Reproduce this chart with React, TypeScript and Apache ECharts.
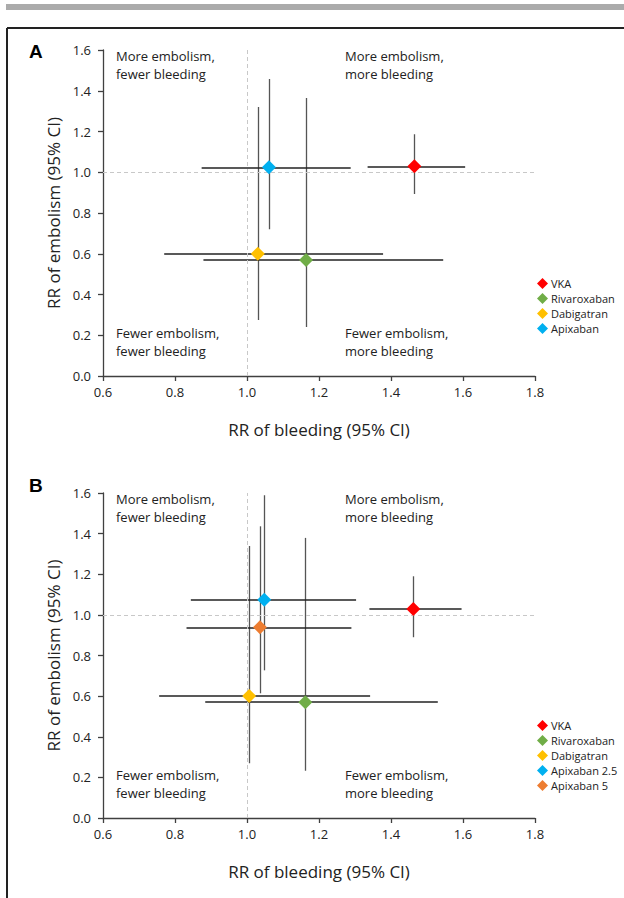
import React, { useEffect, useRef } from "react";
import * as echarts from "echarts";

const xTicks = [0.6, 0.8, 1.0, 1.2, 1.4, 1.6, 1.8];
const yTicks = [0, 0.2, 0.4, 0.6, 0.8, 1.0, 1.2, 1.4, 1.6];

// Panel A
const namesA = ["VKA", "Rivaroxaban", "Dabigatran", "Apixaban"];
const colorsA = ["#FF0000", "#70AD47", "#FFC000", "#00B0F0"];
const bleedA = [1.465, 1.164, 1.03, 1.061];
const bleedLoA = [1.335, 0.879, 0.77, 0.874];
const bleedHiA = [1.606, 1.545, 1.378, 1.288];
const embA = [1.029, 0.569, 0.6, 1.024];
const embLoA = [0.893, 0.24, 0.275, 0.72];
const embHiA = [1.186, 1.364, 1.32, 1.458];

// Panel B
const namesB = ["VKA", "Rivaroxaban", "Dabigatran", "Apixaban 2.5", "Apixaban 5"];
const colorsB = ["#FF0000", "#70AD47", "#FFC000", "#00B0F0", "#ED7D31"];
const bleedB = [1.462, 1.162, 1.006, 1.048, 1.036];
const bleedLoB = [1.34, 0.884, 0.756, 0.844, 0.832];
const bleedHiB = [1.596, 1.53, 1.342, 1.303, 1.29];
const embB = [1.029, 0.57, 0.601, 1.075, 0.939];
const embLoB = [0.89, 0.233, 0.27, 0.727, 0.614];
const embHiB = [1.19, 1.379, 1.339, 1.589, 1.436];

const quadTop = ["More embolism,\nfewer bleeding", "More embolism,\nmore bleeding"];
const quadBottom = ["Fewer embolism,\nfewer bleeding", "Fewer embolism,\nmore bleeding"];

const FONT = "'Open Sans', 'Noto Sans', sans-serif";

function buildPanel(
  idx: number,
  names: string[],
  colors: string[],
  bx: number[],
  bxLo: number[],
  bxHi: number[],
  ey: number[],
  eyLo: number[],
  eyHi: number[]
) {
  const series: any[] = [];
  series.push({
    type: "scatter",
    xAxisIndex: idx,
    yAxisIndex: idx,
    data: [],
    silent: true,
    markLine: {
      silent: true,
      symbol: "none",
      label: { show: false },
      lineStyle: { color: "#c8c8c8", type: [4, 3], width: 1 },
      data: [{ xAxis: 1.0 }, { yAxis: 1.0 }],
    },
  });
  const hLines = names.map((_, i) => ({ coords: [[bxLo[i], ey[i]], [bxHi[i], ey[i]]] }));
  const vLines = names.map((_, i) => ({ coords: [[bx[i], eyLo[i]], [bx[i], eyHi[i]]] }));
  series.push({
    type: "lines",
    coordinateSystem: "cartesian2d",
    xAxisIndex: idx,
    yAxisIndex: idx,
    silent: true,
    lineStyle: { color: "#555555", width: 1.3, opacity: 1 },
    data: vLines,
    z: 3,
  });
  series.push({
    type: "lines",
    coordinateSystem: "cartesian2d",
    xAxisIndex: idx,
    yAxisIndex: idx,
    silent: true,
    lineStyle: { color: "#222222", width: 1.6, opacity: 1 },
    data: hLines,
    z: 3,
  });
  names.forEach((n, i) => {
    series.push({
      type: "scatter",
      name: n,
      xAxisIndex: idx,
      yAxisIndex: idx,
      symbol: "diamond",
      symbolSize: 14,
      itemStyle: { color: colors[i], opacity: 1 },
      data: [[bx[i], ey[i]]],
      z: 5,
    });
  });
  return series;
}

export default function App() {
  const ref = useRef<HTMLDivElement>(null);
  useEffect(() => {
    document.body.style.margin = "0";
    if (!ref.current) return;
    const chart = echarts.init(ref.current, undefined, { renderer: "svg" });

    const grids = [
      { left: 103, top: 50, width: 432, height: 326 },
      { left: 103, top: 493, width: 432, height: 325 },
    ];

    const axisLine = { show: true, lineStyle: { color: "#404040", width: 1.3 } };
    const axisTick = { show: true, length: 5, inside: false, lineStyle: { color: "#404040", width: 1.3 } };
    const labelStyle = { color: "#222", fontSize: 13, fontFamily: FONT };

    const xAxes = [0, 1].map((i) => ({
      type: "value",
      gridIndex: i,
      min: xTicks[0],
      max: xTicks[xTicks.length - 1],
      interval: 0.2,
      axisLine,
      axisTick,
      splitLine: { show: false },
      axisLabel: { ...labelStyle, margin: 9, formatter: (v: number) => v.toFixed(1) },
      name: "RR of bleeding (95% CI)",
      nameLocation: "middle",
      nameGap: 45,
      nameTextStyle: { color: "#222", fontSize: 17, fontFamily: FONT },
    }));
    const yAxes = [0, 1].map((i) => ({
      type: "value",
      gridIndex: i,
      min: yTicks[0],
      max: yTicks[yTicks.length - 1],
      interval: 0.2,
      axisLine,
      axisTick,
      splitLine: { show: false },
      axisLabel: { ...labelStyle, margin: 12, formatter: (v: number) => v.toFixed(1) },
      name: "RR of embolism (95% CI)",
      nameLocation: "middle",
      nameGap: 36,
      nameTextStyle: { color: "#222", fontSize: 17, fontFamily: FONT },
    }));

    const series = [
      ...buildPanel(0, namesA, colorsA, bleedA, bleedLoA, bleedHiA, embA, embLoA, embHiA),
      ...buildPanel(1, namesB, colorsB, bleedB, bleedLoB, bleedHiB, embB, embLoB, embHiB),
    ];

    const legendBase = {
      orient: "vertical",
      icon: "diamond",
      itemWidth: 11,
      itemHeight: 11,
      itemGap: 4,
      selectedMode: false,
      textStyle: { color: "#222", fontSize: 11, fontFamily: FONT, padding: [0, 0, 0, -2] },
    };

    const quadText = (x: number, y: number, t: string) => ({
      type: "text",
      left: x,
      top: y,
      silent: true,
      style: { text: t, fill: "#222", font: `13px ${FONT}`, lineHeight: 18 },
    });

    const graphic: any[] = [
      { type: "rect", shape: { x: 6, y: 4, width: 618, height: 6 }, style: { fill: "#ababab" }, silent: true },
      { type: "line", shape: { x1: 7, y1: 28, x2: 624, y2: 28 }, style: { stroke: "#222", lineWidth: 2 }, silent: true },
      { type: "line", shape: { x1: 7, y1: 28, x2: 7, y2: 898 }, style: { stroke: "#222", lineWidth: 2 }, silent: true },
      {
        type: "text",
        left: 29,
        top: 42,
        style: { text: "A", fill: "#000", font: "bold 19px 'Liberation Sans', Arial, sans-serif" },
        silent: true,
      },
      {
        type: "text",
        left: 29,
        top: 476,
        style: { text: "B", fill: "#000", font: "bold 19px 'Liberation Sans', Arial, sans-serif" },
        silent: true,
      },
      quadText(116, 47, quadTop[0]),
      quadText(345, 47, quadTop[1]),
      quadText(116, 324, quadBottom[0]),
      quadText(345, 324, quadBottom[1]),
      quadText(116, 490, quadTop[0]),
      quadText(345, 490, quadTop[1]),
      quadText(116, 766, quadBottom[0]),
      quadText(345, 766, quadBottom[1]),
    ];

    chart.setOption({
      animation: false,
      grid: grids,
      xAxis: xAxes,
      yAxis: yAxes,
      legend: [
        { ...legendBase, data: namesA, left: 532, top: 273 },
        { ...legendBase, data: namesB, left: 532, top: 715 },
      ],
      graphic,
      series,
    });
    return () => chart.dispose();
  }, []);
  return <div ref={ref} style={{ width: 624, height: 898 }} />;
}
